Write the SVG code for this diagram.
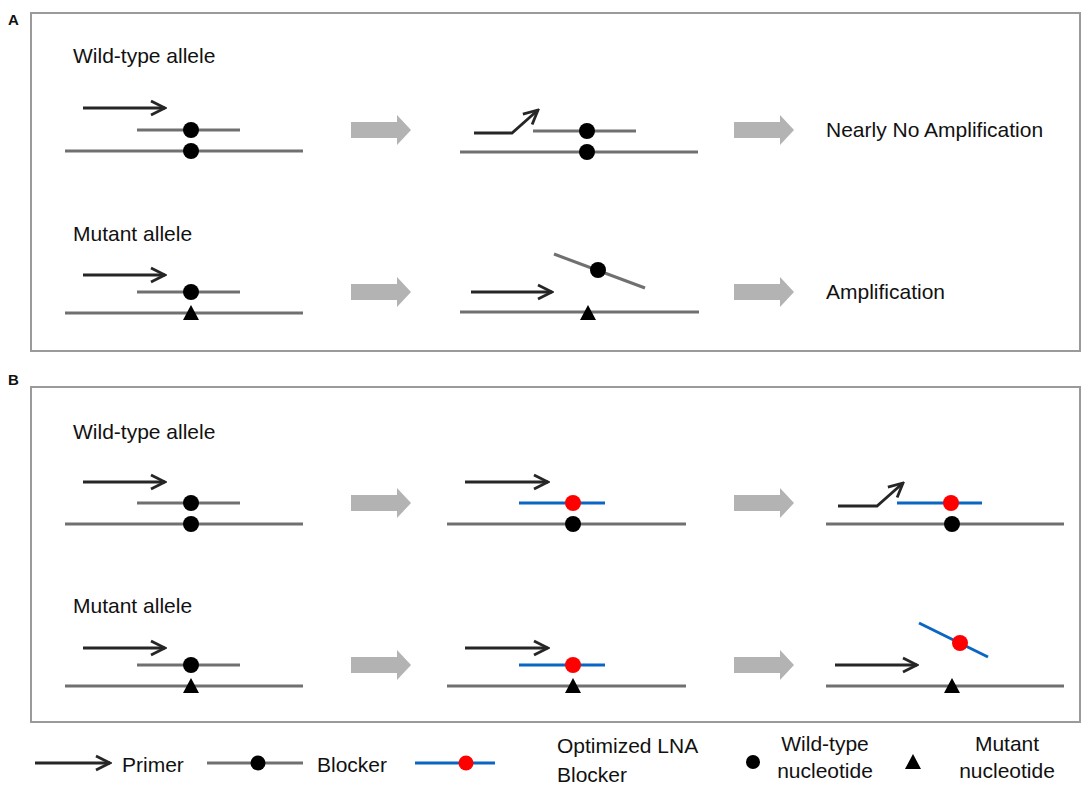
<svg xmlns="http://www.w3.org/2000/svg" width="1084" height="790" viewBox="0 0 1084 790">
<defs>
<style>
text{font-family:"Liberation Sans",Arial,sans-serif;fill:#111;font-size:21px}
.lbl{font-weight:bold;font-size:15px}
.box{fill:none;stroke:#9a9a9a;stroke-width:2}
.tpl{stroke:#707070;stroke-width:3;fill:none}
.blk{stroke:#707070;stroke-width:3;fill:none}
.lna{stroke:#0a66c2;stroke-width:3;fill:none}
.pr{stroke:#262626;stroke-width:2.8;fill:none;marker-end:url(#ch)}
.wt{fill:#000}
.rd{fill:#ff0000}
.mu{fill:#000}
.big{fill:#b3b3b3}
</style>
<marker id="ch" markerUnits="userSpaceOnUse" viewBox="-16 -9 18 18" refX="0" refY="0" markerWidth="18" markerHeight="18" orient="auto">
<path d="M-14,-7 L0,0 L-14,7" fill="none" stroke="#262626" stroke-width="2.8"/>
</marker>
<polygon id="bigarrow" points="0,-8 46,-8 46,-15 60,0 46,15 46,8 0,8"/>
<polygon id="tri" points="0,-8 8,7 -8,7"/>
</defs>
<rect width="1084" height="790" fill="#fff"/>

<text class="lbl" x="8" y="25">A</text>
<text class="lbl" x="8" y="385">B</text>
<rect class="box" x="31" y="13" width="1049" height="338"/>
<rect class="box" x="31" y="387" width="1049" height="335"/>

<g id="connectors">
<use href="#bigarrow" class="big" x="351" y="130"/>
<use href="#bigarrow" class="big" x="734" y="130"/>
<use href="#bigarrow" class="big" x="351" y="292"/>
<use href="#bigarrow" class="big" x="734" y="292"/>
<use href="#bigarrow" class="big" x="351" y="503"/>
<use href="#bigarrow" class="big" x="734" y="503"/>
<use href="#bigarrow" class="big" x="351" y="665"/>
<use href="#bigarrow" class="big" x="734" y="665"/>
</g>

<g id="A-wt-1">
<text x="73" y="63">Wild-type allele</text>
<path class="pr" d="M83,108 H165"/>
<line class="blk" x1="137" y1="130" x2="240" y2="130"/>
<line class="tpl" x1="65" y1="151" x2="303" y2="151"/>
<circle class="wt" cx="191" cy="130" r="8"/>
<circle class="wt" cx="191" cy="151" r="8"/>
</g>
<g id="A-wt-2">
<path class="pr" d="M474,133 H512 L538,110"/>
<line class="blk" x1="533" y1="131" x2="636" y2="131"/>
<line class="tpl" x1="460" y1="152" x2="698" y2="152"/>
<circle class="wt" cx="587" cy="131" r="8"/>
<circle class="wt" cx="587" cy="152" r="8"/>
</g>
<g id="A-wt-3"><text x="826" y="137">Nearly No Amplification</text></g>

<g id="A-mu-1">
<text x="73" y="241">Mutant allele</text>
<path class="pr" d="M83,275 H165"/>
<line class="blk" x1="137" y1="292" x2="240" y2="292"/>
<line class="tpl" x1="65" y1="313" x2="303" y2="313"/>
<circle class="wt" cx="191" cy="292" r="8"/>
<use href="#tri" class="mu" x="191" y="313"/>
</g>
<g id="A-mu-2">
<path class="pr" d="M471,292 H552"/>
<line class="blk" x1="554" y1="254" x2="645" y2="288"/>
<line class="tpl" x1="460" y1="312" x2="699" y2="312"/>
<circle class="wt" cx="598" cy="270" r="8"/>
<use href="#tri" class="mu" x="588" y="313"/>
</g>
<g id="A-mu-3"><text x="826" y="299">Amplification</text></g>

<g id="B-wt-1">
<text x="73" y="439">Wild-type allele</text>
<path class="pr" d="M83,482 H165"/>
<line class="blk" x1="137" y1="503" x2="240" y2="503"/>
<line class="tpl" x1="65" y1="524" x2="303" y2="524"/>
<circle class="wt" cx="191" cy="503" r="8"/>
<circle class="wt" cx="191" cy="524" r="8"/>
</g>
<g id="B-wt-2">
<path class="pr" d="M465,482 H548"/>
<line class="lna" x1="519" y1="503" x2="605" y2="503"/>
<line class="tpl" x1="447" y1="524" x2="686" y2="524"/>
<circle class="rd" cx="573" cy="503" r="8"/>
<circle class="wt" cx="573" cy="524" r="8"/>
</g>
<g id="B-wt-3">
<path class="pr" d="M838,506 H877 L903,483"/>
<line class="lna" x1="897" y1="503" x2="982" y2="503"/>
<line class="tpl" x1="826" y1="524" x2="1064" y2="524"/>
<circle class="rd" cx="951" cy="503" r="8"/>
<circle class="wt" cx="952" cy="524" r="8"/>
</g>

<g id="B-mu-1">
<text x="73" y="613">Mutant allele</text>
<path class="pr" d="M83,648 H165"/>
<line class="blk" x1="137" y1="665" x2="240" y2="665"/>
<line class="tpl" x1="65" y1="686" x2="303" y2="686"/>
<circle class="wt" cx="191" cy="665" r="8"/>
<use href="#tri" class="mu" x="191" y="686"/>
</g>
<g id="B-mu-2">
<path class="pr" d="M465,648 H548"/>
<line class="lna" x1="519" y1="665" x2="605" y2="665"/>
<line class="tpl" x1="447" y1="686" x2="686" y2="686"/>
<circle class="rd" cx="573" cy="665" r="8"/>
<use href="#tri" class="mu" x="573" y="686"/>
</g>
<g id="B-mu-3">
<path class="pr" d="M835,665 H917"/>
<line class="lna" x1="919" y1="623" x2="988" y2="657"/>
<line class="tpl" x1="826" y1="686" x2="1064" y2="686"/>
<circle class="rd" cx="960" cy="643" r="8"/>
<use href="#tri" class="mu" x="952" y="686"/>
</g>

<g id="legend">
<path class="pr" d="M35,763 H110"/>
<text x="122" y="772">Primer</text>
<line class="blk" x1="207" y1="763" x2="303" y2="763"/>
<circle class="wt" cx="258" cy="763" r="7.5"/>
<text x="317" y="772">Blocker</text>
<line class="lna" x1="415" y1="763" x2="495" y2="763"/>
<circle class="rd" cx="466" cy="763" r="7.5"/>
<text x="557" y="753">Optimized LNA</text>
<text x="557" y="782">Blocker</text>
<circle class="wt" cx="753" cy="762" r="7"/>
<text x="825" y="751" text-anchor="middle">Wild-type</text>
<text x="825" y="778" text-anchor="middle">nucleotide</text>
<use href="#tri" class="mu" x="913" y="762"/>
<text x="1007" y="751" text-anchor="middle">Mutant</text>
<text x="1007" y="778" text-anchor="middle">nucleotide</text>
</g>
</svg>
